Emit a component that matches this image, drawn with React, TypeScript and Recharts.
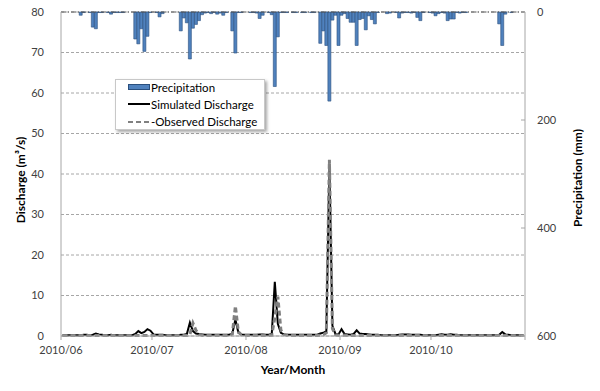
import React from 'react';
import {
  ComposedChart,
  Bar,
  Line,
  XAxis,
  YAxis,
  CartesianGrid,
  ReferenceLine,
} from 'recharts';

// daily values, 2010/06/01 .. 2010/10/31 (153 days)
const precipitation = [
  0, 0, 0, 0, 0, 0, 6, 1, 0, 1,
  28, 31, 1, 1, 0, 1, 4, 1, 1, 1,
  1, 0, 0, 0, 50, 59, 31, 73, 45, 1,
  0, 1, 9, 3, 0, 0, 0, 0, 0, 35,
  11, 20, 87, 30, 23, 16, 5, 2, 1, 3,
  1, 4, 2, 6, 1, 0, 35, 76, 1, 1,
  0, 0, 1, 1, 2, 12, 6, 0, 1, 5,
  138, 46, 1, 1, 1, 0, 1, 1, 0, 1,
  1, 0, 1, 1, 0, 58, 35, 62, 165, 15,
  6, 62, 6, 3, 12, 19, 19, 62, 14, 12,
  33, 7, 14, 22, 1, 0, 0, 3, 2, 0,
  1, 11, 2, 1, 1, 2, 1, 10, 16, 1,
  0, 1, 2, 7, 3, 1, 2, 16, 13, 13,
  1, 2, 1, 1, 0, 0, 0, 0, 0, 0,
  0, 0, 0, 0, 22, 62, 4, 0, 1, 0,
  0, 0, 0,
];

const simulated = [
  0.2, 0.2, 0.2, 0.2, 0.2, 0.2, 0.2, 0.3, 0.3, 0.2,
  0.3, 0.6, 0.4, 0.3, 0.2, 0.2, 0.3, 0.2, 0.2, 0.2,
  0.2, 0.2, 0.2, 0.2, 0.5, 1.2, 0.7, 1.0, 1.7, 1.3,
  0.4, 0.3, 0.3, 0.3, 0.2, 0.2, 0.2, 0.2, 0.2, 0.3,
  0.3, 0.5, 3.3, 1.2, 0.6, 0.5, 0.4, 0.3, 0.3, 0.3,
  0.3, 0.3, 0.3, 0.3, 0.3, 0.3, 0.6, 4.1, 0.8, 0.4,
  0.3, 0.3, 0.3, 0.3, 0.3, 0.4, 0.4, 0.3, 0.3, 0.5,
  13.4, 3.0, 0.8, 0.4, 0.3, 0.3, 0.3, 0.3, 0.3, 0.3,
  0.3, 0.3, 0.3, 0.3, 0.3, 0.6, 0.8, 1.2, 42.5, 2.5,
  0.5, 0.4, 1.7, 0.5, 0.4, 0.3, 0.5, 1.4, 0.6, 0.5,
  0.5, 0.4, 0.3, 0.3, 0.3, 0.2, 0.2, 0.2, 0.2, 0.2,
  0.2, 0.3, 0.4, 0.4, 0.4, 0.3, 0.3, 0.3, 0.3, 0.2,
  0.2, 0.2, 0.2, 0.2, 0.3, 0.4, 0.3, 0.3, 0.4, 0.3,
  0.3, 0.2, 0.2, 0.2, 0.2, 0.2, 0.2, 0.2, 0.2, 0.2,
  0.2, 0.2, 0.2, 0.2, 0.3, 1.0, 0.4, 0.3, 0.2, 0.2,
  0.2, 0.2, 0.2,
];

const observed = [
  0.1, 0.1, 0.1, 0.1, 0.1, 0.1, 0.1, 0.1, 0.1, 0.1,
  0.1, 0.1, 0.1, 0.1, 0.1, 0.1, 0.1, 0.1, 0.1, 0.1,
  0.1, 0.1, 0.1, 0.1, 0.1, 0.1, 0.1, 0.1, 0.1, 0.1,
  0.1, 0.1, 0.1, 0.1, 0.1, 0.1, 0.1, 0.1, 0.1, 0.1,
  0.1, 0.1, 0.4, 3.2, 1.4, 0.4, 0.2, 0.1, 0.1, 0.1,
  0.1, 0.1, 0.1, 0.1, 0.1, 0.1, 0.5, 7.4, 1.0, 0.3,
  0.1, 0.1, 0.1, 0.1, 0.1, 0.1, 0.1, 0.1, 0.1, 0.2,
  4.5, 9.7, 1.5, 0.4, 0.2, 0.1, 0.1, 0.1, 0.1, 0.1,
  0.1, 0.1, 0.1, 0.1, 0.1, 0.2, 0.3, 0.8, 43.5, 1.8,
  0.3, 0.2, 0.2, 0.2, 0.1, 0.1, 0.1, 0.1, 0.1, 0.1,
  0.1, 0.1, 0.1, 0.1, 0.1, 0.1, 0.1, 0.1, 0.1, 0.1,
  0.1, 0.1, 0.1, 0.1, 0.1, 0.1, 0.1, 0.1, 0.1, 0.1,
  0.1, 0.1, 0.1, 0.1, 0.1, 0.1, 0.1, 0.1, 0.1, 0.1,
  0.1, 0.1, 0.1, 0.1, 0.1, 0.1, 0.1, 0.1, 0.1, 0.1,
  0.1, 0.1, 0.1, 0.1, 0.1, 0.1, 0.1, 0.1, 0.1, 0.1,
  0.1, 0.1, 0.1,
];

// day offsets of month starts and their labels
const monthStarts = [0, 30, 61, 92, 122, 153];
const monthLabels = ['2010/06', '2010/07', '2010/08', '2010/09', '2010/10', ''];

const dischargeTicks = [0, 10, 20, 30, 40, 50, 60, 70, 80];
const precipTicks = [0, 200, 400, 600];

const FONT = 'Lato, "Open Sans", sans-serif';
const TICK = { fill: '#404040', fontSize: 11, fontFamily: FONT };
const AXIS_GRAY = '#a6a6a6';

// each day sits in the middle of its own slot on the date axis
const data = precipitation.map((p, i) => ({
  day: i + 0.5,
  precip: p,
  sim: simulated[i],
  obs: observed[i],
}));

const AxisTitle = ({ viewBox, text, dx, dy, rotate }: any) => {
  const x = viewBox.x + dx;
  const y = viewBox.y + dy;
  return (
    <text
      x={x}
      y={y}
      textAnchor="middle"
      dominantBaseline="central"
      transform={rotate ? `rotate(-90 ${x} ${y})` : undefined}
      style={{ fontFamily: FONT, fontSize: 12, fontWeight: 700, fill: '#000' }}
    >
      {text}
    </text>
  );
};

const ChartLegend = () => (
  <div
    style={{
      position: 'absolute',
      left: 115,
      top: 79,
      width: 150,
      height: 51,
      background: '#fff',
      border: '1px solid #c8c8c8',
      boxShadow: '2px 2px 3px rgba(0,0,0,0.35)',
      fontFamily: FONT,
      fontSize: 11.5,
      color: '#000',
      boxSizing: 'border-box',
    }}
  >
    {[
      { name: 'Precipitation', kind: 'bar' },
      { name: 'Simulated Discharge', kind: 'sim' },
      { name: 'Observed Discharge', kind: 'obs' },
    ].map((item, i) => (
      <div
        key={item.name}
        style={{ position: 'absolute', left: 12, top: 0 + i * 17.3, height: 14, display: 'flex', alignItems: 'center' }}
      >
        <svg width={22} height={10} style={{ marginRight: 1 }}>
          {item.kind === 'bar' && <rect x={0.5} y={2.5} width={21} height={5} fill="#4f81bd" stroke="#2a4f7d" />}
          {item.kind === 'sim' && <line x1={0} y1={5} x2={22} y2={5} stroke="#000" strokeWidth={2} />}
          {item.kind === 'obs' && (
            <line x1={0} y1={5} x2={22} y2={5} stroke="#808080" strokeWidth={2} strokeDasharray="5 3" />
          )}
        </svg>
        <span>{item.kind === 'obs' ? '-' + item.name : item.name}</span>
      </div>
    ))}
  </div>
);

export default function App() {
  return (
    <div style={{ position: 'absolute', left: 0, top: 0, width: 600, height: 391, background: '#fff' }}>
      <ComposedChart
        width={600}
        height={391}
        data={data}
        margin={{ top: 12, right: 0, bottom: 0, left: 0 }}
        barGap={0}
      >
        <CartesianGrid yAxisId="left" vertical={false} stroke={AXIS_GRAY} strokeDasharray="3 2" />
        <XAxis
          dataKey="day"
          type="number"
          domain={[0, 153]}
          ticks={monthStarts}
          tickFormatter={(v: number) => monthLabels[monthStarts.indexOf(v)]}
          interval={0}
          height={55}
          stroke={AXIS_GRAY}
          tick={TICK}
          tickSize={4}
          tickMargin={6}
          label={(p: any) => <AxisTitle {...p} text="Year/Month" dx={232} dy={33} />}
        />
        <YAxis
          yAxisId="left"
          domain={[0, 80]}
          ticks={dischargeTicks}
          width={61}
          stroke={AXIS_GRAY}
          tickLine={false}
          tick={TICK}
          tickMargin={11}
          label={(p: any) => <AxisTitle {...p} text="Discharge (m³/s)" dx={20} dy={168} rotate />}
        />
        <YAxis
          yAxisId="right"
          orientation="right"
          domain={[0, 600]}
          reversed
          ticks={precipTicks}
          width={75}
          stroke={AXIS_GRAY}
          tickSize={-4}
          tickMargin={16}
          tick={TICK}
          label={(p: any) => <AxisTitle {...p} text="Precipitation (mm)" dx={52} dy={166} rotate />}
        />
        <ReferenceLine yAxisId="left" y={80} stroke="#555" strokeDasharray="5 2 1 2" />
        <Bar
          yAxisId="right"
          dataKey="precip"
          barSize={3}
          fill="#4f81bd"
          stroke="#2a4f7d"
          strokeWidth={0.6}
          isAnimationActive={false}
        />
        <Line
          yAxisId="left"
          dataKey="sim"
          type="linear"
          stroke="#000"
          strokeWidth={2}
          dot={false}
          isAnimationActive={false}
        />
        <Line
          yAxisId="left"
          dataKey="obs"
          type="linear"
          stroke="#808080"
          strokeWidth={3}
          strokeDasharray="5 3"
          dot={false}
          isAnimationActive={false}
        />
      </ComposedChart>
      <ChartLegend />
    </div>
  );
}
